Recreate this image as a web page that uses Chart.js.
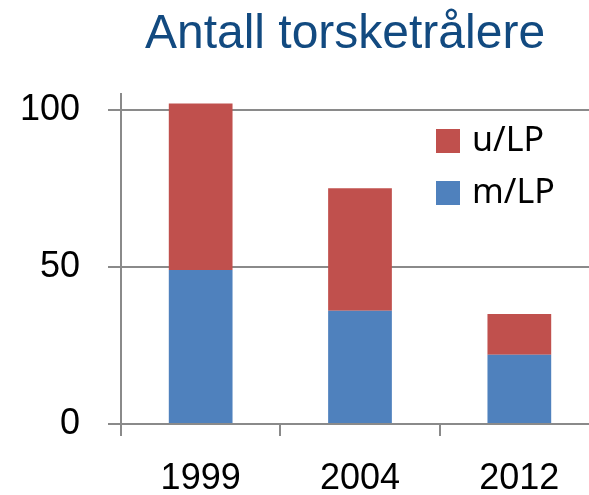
<!DOCTYPE html>
<html>
<head>
<meta charset="utf-8">
<script src="https://cdn.jsdelivr.net/npm/chart.js@4.4.1/dist/chart.umd.min.js"></script>
<style>
    html, body { margin: 0; padding: 0; background: #fff; overflow: hidden; }
    #wrap { width: 600px; height: 495px; }
</style>
</head>
<body>
<div id="wrap"><canvas id="chart" width="600" height="495"></canvas></div>
<script>
// Data
const years = ['1999', '2004', '2012'];
const medLP = [49, 36, 22];     // m/LP (blue, bottom)
const utenLP = [53, 39, 13];    // u/LP (red, top)
const yTicks = [0, 50, 100];
const titleText = 'Antall torsketrålere';

const gridColor = '#8a8a8a';
const axisFont = "'Liberation Sans', Arial, sans-serif";
const legendFont = "'Noto Sans', sans-serif";

// Title sits a bit right of the canvas centre in the original
const chartTitle = {
    id: 'chartTitle',
    afterDraw(chart) {
        const ctx = chart.ctx;
        const area = chart.chartArea;
        ctx.save();
        ctx.font = '48px ' + axisFont;
        ctx.fillStyle = '#124a80';
        ctx.textAlign = 'center';
        ctx.textBaseline = 'alphabetic';
        ctx.fillText(titleText, (area.left + area.right) / 2 - 15, 48);
        ctx.restore();
    }
};

// Legend drawn inside the plot area, top right
const innerLegend = {
    id: 'innerLegend',
    afterDraw(chart) {
        const ctx = chart.ctx;
        const area = chart.chartArea;
        const items = chart.data.datasets.slice().reverse();
        const x = area.right - 163;
        let y = area.top + 35;
        ctx.save();
        ctx.font = '34px ' + legendFont;
        ctx.textBaseline = 'middle';
        items.forEach(ds => {
            ctx.fillStyle = ds.backgroundColor;
            ctx.fillRect(x, y, 24, 24);
            ctx.fillStyle = '#000';
            ctx.fillText(ds.label, x + 36, y + 12);
            y += 52;
        });
        ctx.restore();
    }
};

const chart = new Chart(document.getElementById('chart'), {
    type: 'bar',
    data: {
        labels: years,
        datasets: [
            {
                label: 'm/LP',
                data: medLP,
                backgroundColor: '#4f81bd',
                barPercentage: 0.4,
                categoryPercentage: 1
            },
            {
                label: 'u/LP',
                data: utenLP,
                backgroundColor: '#c0504d',
                barPercentage: 0.4,
                categoryPercentage: 1
            }
        ]
    },
    options: {
        responsive: false,
        animation: false,
        devicePixelRatio: 1,
        layout: {
            padding: { top: 94, left: 0, right: 1, bottom: 0 }
        },
        plugins: {
            legend: { display: false },
            tooltip: { enabled: false },
            title: { display: false }
        },
        scales: {
            x: {
                stacked: true,
                offset: true,
                afterFit: scale => { scale.height = 71; },
                grid: {
                    display: true,
                    offset: true,
                    drawOnChartArea: false,
                    drawTicks: true,
                    tickLength: 12,
                    color: gridColor,
                    lineWidth: 2
                },
                border: { display: true, color: gridColor, width: 2 },
                ticks: {
                    color: '#000',
                    padding: 21,
                    font: { family: axisFont, size: 36 }
                }
            },
            y: {
                stacked: true,
                min: 0,
                max: 105,
                afterFit: scale => { scale.width = 121; },
                afterBuildTicks: scale => {
                    scale.ticks = yTicks.map(v => ({ value: v }));
                },
                grid: {
                    color: gridColor,
                    lineWidth: 2,
                    tickLength: 13
                },
                border: { display: true, color: gridColor, width: 2 },
                ticks: {
                    color: '#000',
                    padding: 28,
                    font: { family: axisFont, size: 36 }
                }
            }
        }
    },
    plugins: [chartTitle, innerLegend]
});
</script>
</body>
</html>
